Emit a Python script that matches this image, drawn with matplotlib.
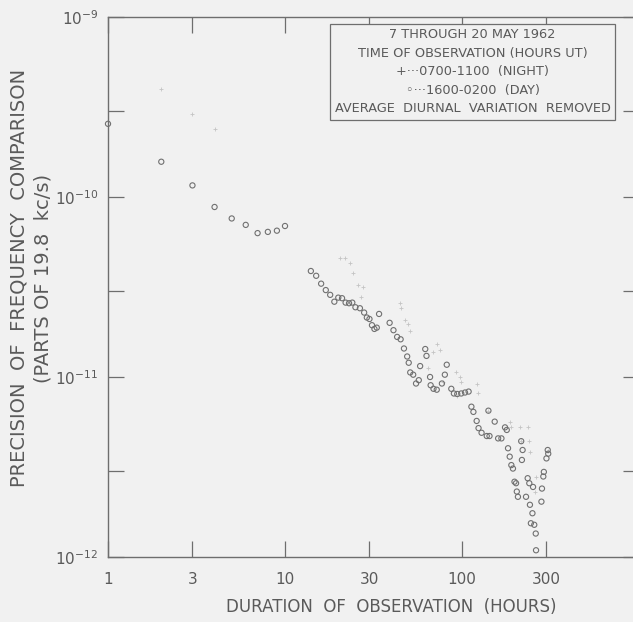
import matplotlib
matplotlib.use("Agg")
import matplotlib.pyplot as plt
from matplotlib.ticker import FixedLocator, FixedFormatter, NullLocator

# ---- data ----
day_hours = [1, 2, 3, 4, 5, 6, 7, 8, 9, 10,
             14, 15, 16, 17, 18, 19, 20, 21, 22, 23, 24, 25, 26.5, 28, 29, 30,
             31, 32, 33, 34, 39, 41, 43, 45, 47, 49, 50, 51, 53, 55, 57, 58,
             62, 63, 66, 66.5, 69, 72, 77, 80, 82, 87, 90, 94, 99, 104, 109,
             113, 116, 121, 124, 129, 138, 141, 143, 153, 160, 167, 175, 179,
             182, 186, 190, 194, 198, 202, 204, 207, 216, 218, 220, 230, 235,
             240, 242, 245, 250, 252, 256, 261, 262, 281, 283, 288, 290, 300,
             305, 307]
day_precision = [2.55e-10, 1.57e-10, 1.16e-10, 8.8e-11, 7.6e-11, 7.0e-11, 6.3e-11,
                 6.4e-11, 6.5e-11, 6.9e-11,
                 3.88e-11, 3.65e-11, 3.3e-11, 3.04e-11, 2.86e-11, 2.62e-11, 2.76e-11,
                 2.74e-11, 2.59e-11, 2.57e-11, 2.59e-11, 2.44e-11, 2.41e-11, 2.28e-11,
                 2.14e-11, 2.10e-11,
                 1.94e-11, 1.85e-11, 1.88e-11, 2.24e-11, 2.0e-11, 1.82e-11, 1.67e-11,
                 1.62e-11, 1.44e-11, 1.30e-11, 1.20e-11, 1.06e-11, 1.03e-11, 9.2e-12,
                 9.6e-12, 1.15e-11,
                 1.43e-11, 1.31e-11, 1.0e-11, 9.0e-12, 8.6e-12, 8.5e-12, 9.2e-12,
                 1.03e-11, 1.17e-11, 8.6e-12, 8.1e-12, 8.05e-12, 8.1e-12, 8.2e-12,
                 8.3e-12,
                 6.84e-12, 6.4e-12, 5.7e-12, 5.2e-12, 4.9e-12, 4.7e-12, 6.5e-12,
                 4.7e-12, 5.65e-12, 4.56e-12, 4.56e-12, 5.25e-12, 5.08e-12,
                 4.02e-12, 3.61e-12, 3.24e-12, 3.1e-12, 2.62e-12, 2.57e-12, 2.31e-12,
                 2.16e-12, 4.4e-12, 3.46e-12, 3.93e-12, 2.16e-12, 2.74e-12,
                 2.57e-12, 1.95e-12, 1.54e-12, 1.75e-12, 2.45e-12, 1.51e-12, 1.35e-12,
                 1.09e-12, 2.03e-12, 2.4e-12, 2.8e-12, 2.97e-12, 3.53e-12,
                 3.93e-12, 3.75e-12]

night_hours = [2, 3, 4,
               20.4, 21.8, 23.3, 24.3, 25.9, 27.6, 27,
               44.6, 45, 47.5, 49.6, 50.9,
               64.5, 69, 72, 75, 78.6,
               93, 97.6, 99.3, 93.5, 121, 123, 140, 186, 190, 212, 216, 235,
               240, 241, 261, 258, 305]
night_precision = [3.98e-10, 2.89e-10, 2.39e-10,
                   4.56e-11, 4.56e-11, 4.28e-11, 3.77e-11, 3.24e-11, 3.16e-11, 2.79e-11,
                   2.57e-11, 2.41e-11, 2.07e-11, 1.98e-11, 1.79e-11,
                   1.12e-11, 1.38e-11, 1.52e-11, 1.41e-11, 9.4e-12,
                   1.07e-11, 1.0e-11, 9.4e-12, 7.8e-12, 9.2e-12, 8.2e-12, 6.5e-12,
                   5.65e-12, 5.25e-12, 5.3e-12, 4.4e-12, 5.3e-12,
                   4.4e-12, 3.84e-12, 2.8e-12, 2.3e-12, 3.9e-12]

x_ticks = [1, 3, 10, 30, 100, 300]
x_tick_labels = ["1", "3", "10", "30", "100", "300"]
y_ticks = [1e-12, 3e-12, 1e-11, 3e-11, 1e-10, 3e-10, 1e-9]
y_tick_labels = [r"$10^{-12}$", "", r"$10^{-11}$", "", r"$10^{-10}$", "", r"$10^{-9}$"]

legend_lines = ["7 THROUGH 20 MAY 1962",
                "TIME OF OBSERVATION (HOURS UT)",
                "+\u00b7\u00b7\u00b70700-1100  (NIGHT)",
                "\u25e6\u00b7\u00b7\u00b71600-0200  (DAY)",
                "AVERAGE  DIURNAL  VARIATION  REMOVED"]

# ---- style ----
BG = "#f1f1f1"
INK = "#5a5a5a"
plt.rcParams["font.family"] = ["DejaVu Sans"]
plt.rcParams["mathtext.fontset"] = "dejavusans"

W, H = 633, 622
fig = plt.figure(figsize=(W / 100, H / 100), dpi=100, facecolor=BG)
left, right, top, bottom = 108, 639, 17, 557
ax = fig.add_axes([left / W, 1 - bottom / H, (right - left) / W, (bottom - top) / H])
ax.set_facecolor(BG)
ax.set_xscale("log")
ax.set_yscale("log")
ax.set_xlim(1, 1000)
ax.set_ylim(1e-12, 1e-9)

ax.scatter(night_hours, night_precision, marker="+", s=12, linewidths=0.6,
           color="#c4c4c4", zorder=2, clip_on=False)
ax.scatter(day_hours, day_precision, marker="o", s=14, facecolors="none",
           edgecolors="#707070", linewidths=0.8, zorder=3, clip_on=False)

for s in ax.spines.values():
    s.set_color("#6e6e6e")
    s.set_linewidth(1.0)

ax.xaxis.set_major_locator(FixedLocator(x_ticks))
ax.xaxis.set_major_formatter(FixedFormatter(x_tick_labels))
ax.yaxis.set_major_locator(FixedLocator(y_ticks))
ax.yaxis.set_major_formatter(FixedFormatter(y_tick_labels))
ax.xaxis.set_minor_locator(NullLocator())
ax.yaxis.set_minor_locator(NullLocator())
ax.tick_params(axis="both", which="major", direction="in", length=11.5,
               width=0.9, color="#6e6e6e", labelcolor=INK, labelsize=11,
               top=True, right=True)
ax.tick_params(axis="x", pad=11)
ax.tick_params(axis="y", pad=7)

legend_text = "\n".join(legend_lines)
fig.text((323 + 622) / 2 / W, 1 - 72 / H, legend_text, ha="center", va="center",
         multialignment="center", fontsize=9.3, color=INK, linespacing=1.55,
         bbox=dict(boxstyle="square,pad=0.35", facecolor=BG, edgecolor="#6e6e6e",
                   linewidth=0.9))

fig.text(31 / W, 1 - 278 / H,
         "PRECISION  OF  FREQUENCY  COMPARISON\n(PARTS OF 19.8  kc/s)",
         rotation=90, ha="center", va="center", multialignment="center",
         fontsize=14, color=INK, linespacing=1.35)
fig.text(391 / W, 1 - 607 / H, "DURATION  OF  OBSERVATION  (HOURS)",
         ha="center", va="center", fontsize=12, color=INK)

fig.savefig("out.png", dpi=100, facecolor=BG)
